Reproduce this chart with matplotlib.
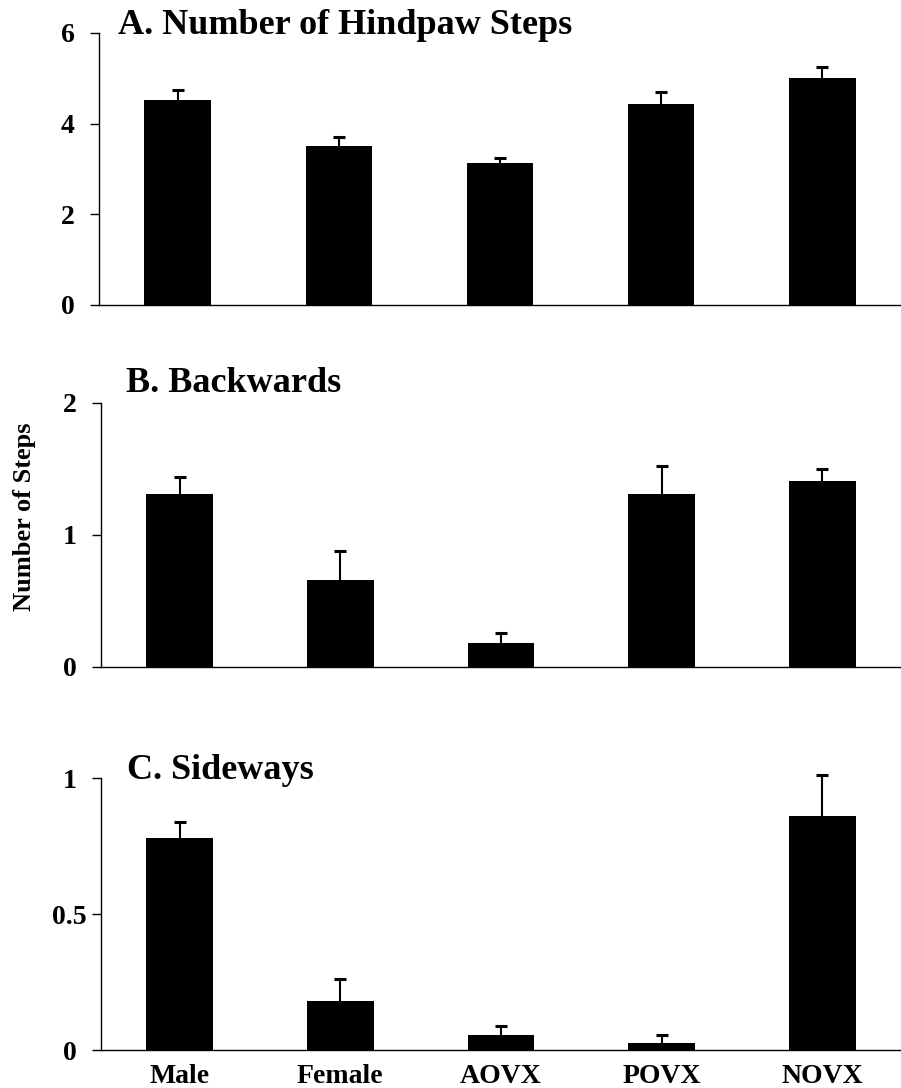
import numpy as np
import matplotlib
matplotlib.use('Agg')
from matplotlib import pyplot as plt

plt.rcParams['font.family'] = ['Liberation Serif', 'DejaVu Serif']
plt.rcParams['font.weight'] = 'bold'

# group means and SEM for each stepping measure
groups = ['Male', 'Female', 'AOVX', 'POVX', 'NOVX']

hindpaw = [4.52, 3.51, 3.13, 4.43, 5.01]
hindpaw_sem = [0.22, 0.20, 0.11, 0.27, 0.24]

backwards = [1.31, 0.66, 0.18, 1.31, 1.41]
backwards_sem = [0.13, 0.22, 0.08, 0.21, 0.09]

sideways = [0.78, 0.18, 0.055, 0.025, 0.86]
sideways_sem = [0.06, 0.08, 0.033, 0.03, 0.15]

titles = ['A. Number of Hindpaw Steps', 'B. Backwards', 'C. Sideways']
means = [hindpaw, backwards, sideways]
sems = [hindpaw_sem, backwards_sem, sideways_sem]
ymax = [6, 2, 1]
yticks = [[0, 2, 4, 6], [0, 1, 2], [0, 0.5, 1]]
yticklabels = [['0', '2', '4', '6'], ['0', '1', '2'], ['0', '0.5', '1']]

W, H = 901, 1088
fig = plt.figure(figsize=(W / 100, H / 100), dpi=100)

# panel boxes in pixels: left, top(ymax), bottom(0)
boxes = [(99, 33, 305), (101, 403, 667), (101, 778, 1050)]
title_pos = [(118, 34), (126, 392), (127, 779)]

x = np.arange(len(groups))
for i in range(3):
    left, top, bottom = boxes[i]
    ax = fig.add_axes([left / W, 1 - bottom / H, (W - left) / W, (bottom - top) / H])
    ax.bar(x, means[i], width=0.415, color='black', zorder=2)
    # upper error bars only
    eb = ax.errorbar(x, means[i], yerr=[np.zeros(len(groups)), sems[i]], fmt='none',
                     ecolor='black', elinewidth=1.5, capsize=4.5, capthick=2.2, zorder=1)
    eb[1][0].set_visible(False)
    for art in list(eb[1]) + list(eb[2]):
        art.set_clip_on(False)
    ax.set_xlim(-0.49, 4.49)
    ax.set_ylim(0, ymax[i])
    ax.set_yticks(yticks[i])
    ax.set_yticklabels(yticklabels[i], fontsize=20, fontweight='bold')
    for lab in ax.get_yticklabels():
        lab.set_horizontalalignment('center')
    ax.tick_params(axis='y', length=6.5, width=1, pad=16, direction='out')
    ax.spines['top'].set_visible(False)
    ax.spines['right'].set_visible(False)
    ax.spines['left'].set_linewidth(1)
    ax.spines['bottom'].set_linewidth(1)
    if i == 2:
        ax.set_xticks(x)
        ax.set_xticklabels(groups, fontsize=20, fontweight='bold')
        ax.tick_params(axis='x', length=0, pad=10)
    else:
        ax.set_xticks([])
    tx, ty = title_pos[i]
    fig.text(tx / W, 1 - ty / H, titles[i], fontsize=26, fontweight='bold',
             ha='left', va='baseline')

fig.text(25 / W, 1 - 517 / H, 'Number of Steps', rotation=90, fontsize=19,
         fontweight='bold', ha='center', va='center')

fig.savefig('out.png', dpi=100)
